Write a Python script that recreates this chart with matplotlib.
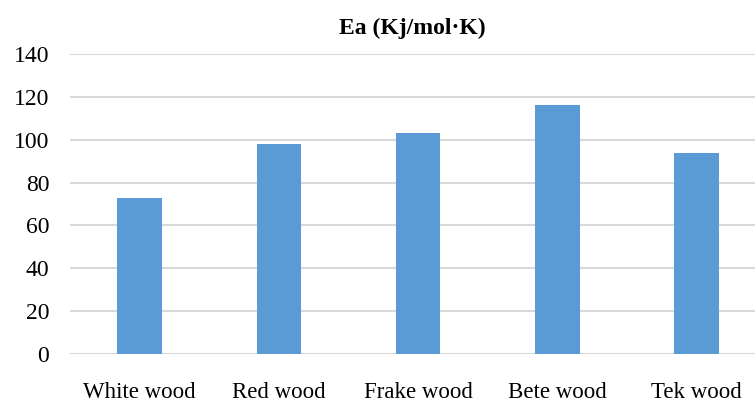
import matplotlib.pyplot as plt

plt.rcParams['font.family'] = ['Liberation Serif', 'DejaVu Serif']

woods = ['White wood', 'Red wood', 'Frake wood', 'Bete wood', 'Tek wood']
ea = [73, 98, 103, 116, 94]
yticks = [0, 20, 40, 60, 80, 100, 120, 140]

fig = plt.figure(figsize=(7.55, 4.04), dpi=100)
ax = fig.add_axes([70 / 755, 50 / 404, 1 - 70 / 755, 300 / 404])

x = range(len(woods))
ax.bar(x, ea, width=0.32, color='#5B9BD5', zorder=3)

ax.set_ylim(0, 140)
ax.set_xlim(-0.5, 4.42)
ax.set_yticks(yticks)
ax.set_xticks(list(x))
ax.set_xticklabels(woods)
ax.yaxis.grid(True, color='#D9D9D9', linewidth=1.5, zorder=0)
for s in ax.spines.values():
    s.set_visible(False)
ax.tick_params(axis='both', length=0)
ax.tick_params(axis='x', pad=20, labelsize=16.5)
ax.tick_params(axis='y', pad=15, labelsize=17)

fig.text(412 / 755, 1 - 28 / 404, 'Ea (Kj/mol·K)', ha='center', va='center',
         fontsize=17, fontweight='bold')

fig.savefig('out.png', dpi=100)
